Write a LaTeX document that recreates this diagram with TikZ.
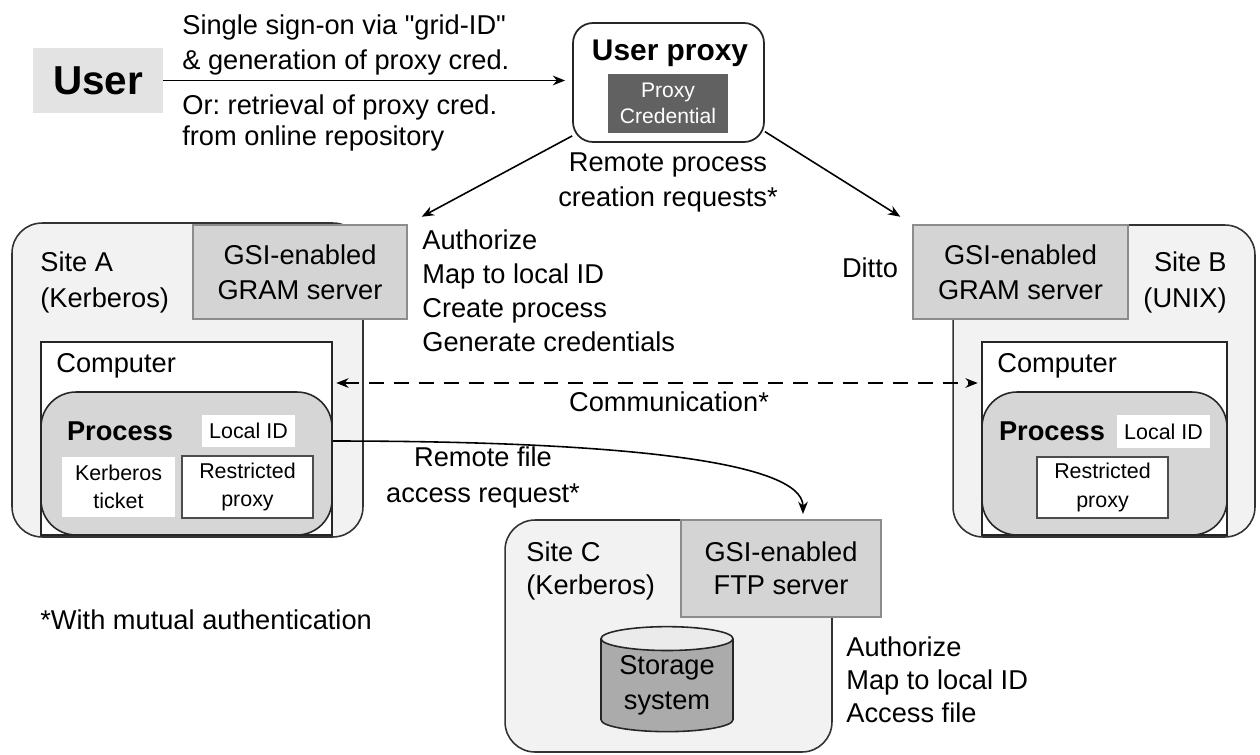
\documentclass[tikz,border=0pt]{standalone}
\usepackage{fontspec}
\setmainfont{Liberation Sans}
\usetikzlibrary{arrows.meta}
\usetikzlibrary{shapes.geometric}
\frenchspacing

\newcommand{\txt}{\fontsize{15.5}{19.5}\selectfont}
\newcommand{\smalltxt}{\fontsize{12.2}{16}\selectfont}
\newcommand{\dq}{\XeTeXglyph\XeTeXcharglyph"22\relax}

\tikzset{
	site/.style={draw=black!80, fill=black!5, line width=0.9pt, rounded corners=0.6cm, inner sep=0pt},
	server/.style={draw=black!45, fill=black!17, line width=0.9pt, align=center, inner sep=0pt},
	computer/.style={draw=black!85, fill=white, line width=0.9pt, inner sep=0pt},
	process/.style={draw=black!85, fill=black!16, line width=0.9pt, rounded corners=0.7cm, inner sep=0pt},
	tag/.style={fill=white, align=center, font=\smalltxt, inner sep=0pt},
	note/.style={align=left, inner sep=0pt},
	arr/.style={-{Stealth[length=7pt,width=5.5pt]}, line width=0.9pt},
	darr/.style={{Stealth[length=7pt,width=5.5pt]}-{Stealth[length=7pt,width=5.5pt]}, line width=0.9pt, dash pattern=on 8.5pt off 5.7pt}
}

\begin{document}
\begin{tikzpicture}[x=0.02cm, y=-0.02cm, font=\txt]
		\useasboundingbox (0,0) rectangle (1260,754);

		\node[fill=black!11, minimum width=2.6cm, minimum height=1.3cm, font=\fontsize{23}{23}\selectfont\bfseries] (user) at (98,80.5) {User};
		\node[note, anchor=west, font=\fontsize{15.5}{20}\selectfont] (sso) at (182,45) {Single sign-on via \dq grid-ID\dq\\\& generation of proxy cred.};
		\node[note, anchor=west, font=\fontsize{15.5}{17.5}\selectfont] (retr) at (182,123) {Or: retrieval of proxy cred.\\from online repository};

		\node[draw=black!85, line width=1pt, rounded corners=0.4cm, minimum width=3.82cm, minimum height=2.38cm] (uproxy) at (668.5,82.5) {};
		\node[inner sep=0pt, font=\fontsize{17}{17}\selectfont\bfseries] (uplbl) at (670,53) {User proxy};
		\node[fill=black!62, text=white, align=center, inner sep=0pt, minimum width=2.4cm, minimum height=1.18cm, font=\fontsize{12}{15}\selectfont] (pcred) at (668,103.5) {Proxy\\Credential};
		\node[align=center, inner sep=0pt, font=\fontsize{15.5}{20}\selectfont] (rpcr) at (668,182.5) {Remote process\\creation requests*};

		\node[site, minimum width=7.02cm, minimum height=6.28cm] (siteA) at (187.5,380) {};
		\node[server, minimum width=4.28cm, minimum height=1.88cm, font=\fontsize{15.5}{20}\selectfont] (gramA) at (300,272) {GSI-enabled\\GRAM server};
		\node[note, anchor=west, font=\fontsize{15.5}{20}\selectfont] (siteAlbl) at (40,282.5) {Site A\\(Kerberos)};
		\node[note, anchor=west, font=\fontsize{15.5}{19.3}\selectfont] (authA) at (422,291) {Authorize\\Map to local ID\\Create process\\Generate credentials};
		\node[computer, minimum width=5.82cm, minimum height=3.86cm] (compA) at (186.5,438.5) {};
		\node[note, anchor=west] (compAlbl) at (56,366) {Computer};
		\node[process, minimum width=5.82cm, minimum height=2.86cm] (procA) at (186.5,463.5) {};
		\node[inner sep=0pt, font=\txt\bfseries] (procAlbl) at (120,431) {Process};
		\node[tag, minimum width=1.86cm, minimum height=0.64cm] (lidA) at (248.5,431) {Local ID};
		\node[tag, minimum width=2.26cm, minimum height=1.2cm] (ktA) at (118.5,487) {Kerberos\\ticket};
		\node[tag, draw=black!70, line width=0.9pt, minimum width=2.62cm, minimum height=1.24cm] (rpA) at (247.5,487) {Restricted\\proxy};

		\node[site, minimum width=6.04cm, minimum height=6.24cm] (siteB) at (1104,381) {};
		\node[server, minimum width=4.3cm, minimum height=1.88cm, font=\fontsize{15.5}{20}\selectfont] (gramB) at (1020.5,272) {GSI-enabled\\GRAM server};
		\node[inner sep=0pt] (ditto) at (870,268) {Ditto};
		\node[note, align=right, anchor=east, font=\fontsize{15.5}{20}\selectfont] (siteBlbl) at (1227,282.5) {Site B\\(UNIX)};
		\node[computer, minimum width=4.9cm, minimum height=3.86cm] (compB) at (1104.5,438.5) {};
		\node[note, anchor=west] (compBlbl) at (997,366) {Computer};
		\node[process, minimum width=4.9cm, minimum height=2.86cm] (procB) at (1104.5,463.5) {};
		\node[inner sep=0pt, font=\txt\bfseries] (procBlbl) at (1052,431) {Process};
		\node[tag, minimum width=1.86cm, minimum height=0.66cm] (lidB) at (1163.5,431.5) {Local ID};
		\node[tag, draw=black!70, line width=0.9pt, minimum width=2.62cm, minimum height=1.22cm] (rpB) at (1102.5,487.5) {Restricted\\proxy};

		\node[inner sep=0pt] (comm) at (669,402) {Communication*};
		\node[align=center, inner sep=0pt, font=\fontsize{15.5}{20}\selectfont] (rfar) at (483,477.5) {Remote file\\access request*};

		\node[site, minimum width=6.54cm, minimum height=4.64cm] (siteC) at (668.5,636) {};
		\node[server, minimum width=4cm, minimum height=1.94cm, font=\fontsize{15.5}{19}\selectfont] (ftpC) at (781,568.5) {GSI-enabled\\FTP server};
		\node[note, anchor=west, font=\fontsize{15.5}{18.5}\selectfont] (siteClbl) at (526,571) {Site C\\(Kerberos)};
		\node[cylinder, shape border rotate=90, draw=black!85, line width=0.9pt, aspect=0.25, cylinder uses custom fill, cylinder body fill=black!33, cylinder end fill=black!8, minimum width=2.64cm, minimum height=2.1cm, align=center, inner sep=0pt, font=\fontsize{15.5}{20}\selectfont] (store) at (667,685.5) {Storage\\system};
		\node[note, anchor=west, font=\fontsize{15.5}{18.7}\selectfont] (authC) at (846,680) {Authorize\\Map to local ID\\Access file};
		\node[note, anchor=west] (mutual) at (40,620) {*With mutual authentication};

		\draw[arr, shorten >=4pt] (user) -- (uproxy.west |- user);
		\draw[arr, shorten >=9pt] (uproxy.209) -- (gramA.north east);
		\draw[arr, shorten >=8pt] (uproxy.-27) -- (gramB.north west);
		\draw[darr, shorten <=2pt, shorten >=2pt] ([yshift=1.11cm]compA.east) -- ([yshift=1.11cm]compB.west);
		\draw[arr, shorten >=3pt] ([yshift=0.45cm]procA.east) .. controls +(270,0) and +(0,-60) .. ([xshift=0.44cm]ftpC.north);

	\end{tikzpicture}
\end{document}
